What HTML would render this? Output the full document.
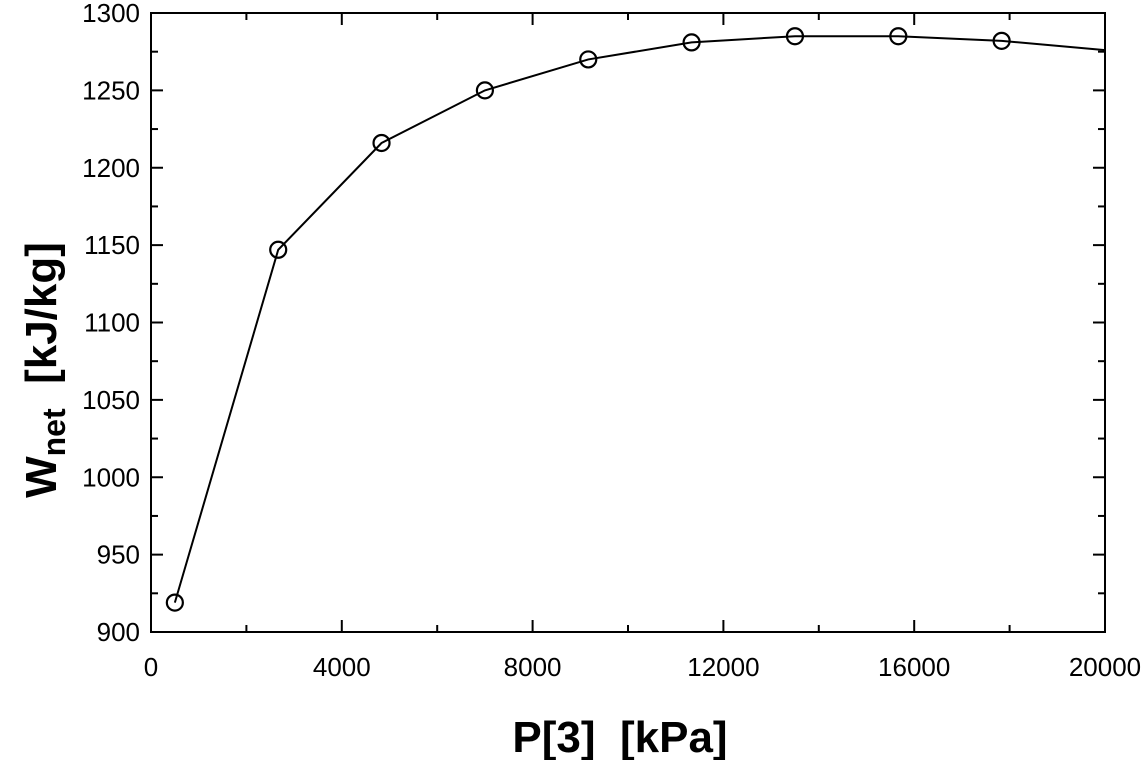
<!DOCTYPE html>
<html><head><meta charset="utf-8"><style>
body{margin:0;background:#fff;}
svg{display:block;font-family:"Liberation Sans",Arial,sans-serif;}
text{white-space:pre;}
</style></head><body>
<svg id="chart" width="1147" height="760">
<g id="ticks"></g>
<g id="series"></g>
<rect x="151" y="13" width="954" height="619" fill="none" stroke="#000" stroke-width="2"/>
<text x="620" y="752" text-anchor="middle" font-size="44" font-weight="bold" xml:space="preserve">P[3]  [kPa]</text>
<text transform="translate(56,370) rotate(-90)" text-anchor="middle" font-size="44" font-weight="bold" xml:space="preserve">W<tspan font-size="32" dy="9">net</tspan><tspan dy="-9">  [kJ/kg]</tspan></text>
</svg>
<script>
const xValues=[500,2667,4833,7000,9167,11333,13500,15667,17833];
const yValues=[919,1147,1216,1250,1270,1281,1285,1285,1282];
const curveEndX=20000, curveEndY=1276;
const xTicks=[0,4000,8000,12000,16000,20000];
const yTicks=[900,950,1000,1050,1100,1150,1200,1250,1300];
const NS="http://www.w3.org/2000/svg";
const X0=151,X1=1105,Y0=632,Y1=13;
const sx=v=>X0+(v-0)/20000*(X1-X0);
const sy=v=>Y0-(v-900)/400*(Y0-Y1);
function mk(t,a,p){const e=document.createElementNS(NS,t);for(const k in a)e.setAttribute(k,a[k]);p.appendChild(e);return e;}
const tg=document.getElementById('ticks');
for(let v=0;v<=20000;v+=2000){const x=sx(v);const major=v%4000===0;const L=major?12:7;
 const t1=mk('line',{x1:x,x2:x,y1:Y0,y2:Y0-L,stroke:'#000','stroke-width':2},tg);
 
 const t2=mk('line',{x1:x,x2:x,y1:Y1,y2:Y1+L,stroke:'#000','stroke-width':2},tg);
 }
xTicks.forEach(v=>{const t=mk('text',{x:sx(v),y:676,'text-anchor':'middle','font-size':26},tg);t.textContent=v;
 });
for(let v=900;v<=1300;v+=25){const y=sy(v);const major=v%50===0;const L=major?12:7;
 const t1=mk('line',{x1:X0,x2:X0+L,y1:y,y2:y,stroke:'#000','stroke-width':2},tg);
 
 const t2=mk('line',{x1:X1,x2:X1-L,y1:y,y2:y,stroke:'#000','stroke-width':2},tg);
 }
yTicks.forEach(v=>{const t=mk('text',{x:140,y:sy(v)+9,'text-anchor':'end','font-size':26},tg);t.textContent=v;
 });
const sg=document.getElementById('series');
const pts=xValues.map((v,i)=>sx(v)+','+sy(yValues[i]));pts.push(sx(curveEndX)+','+sy(curveEndY));
const pl=mk('polyline',{points:pts.join(' '),fill:'none',stroke:'#000','stroke-width':2},sg);

xValues.forEach((v,i)=>{const c=mk('circle',{cx:sx(v),cy:sy(yValues[i]),r:8,fill:'none',stroke:'#000','stroke-width':2.2},sg);
 });
</script>
</body></html>
